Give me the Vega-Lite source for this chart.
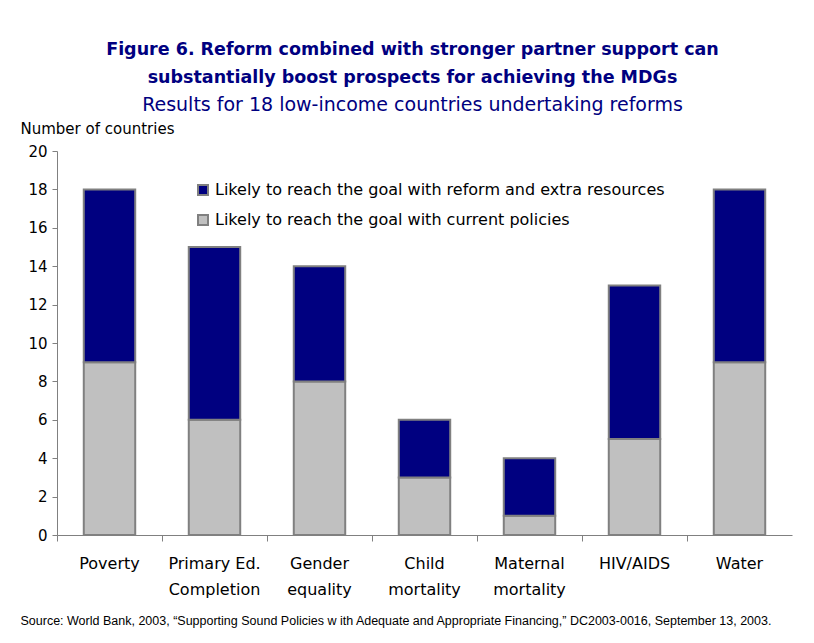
{
  "$schema": "https://vega.github.io/schema/vega-lite/v6.json",
  "width": 735,
  "height": 384,
  "padding": {"left": 20, "top": 40, "right": 22, "bottom": 10},
  "background": "white",
  "title": {
    "text": ["Figure 6. Reform combined with stronger partner support can", "substantially boost prospects for achieving the MDGs"],
    "subtitle": "Results for 18 low-income countries undertaking reforms",
    "font": "DejaVu Sans",
    "fontSize": 17.5,
    "fontWeight": "bold",
    "color": "#000080",
    "subtitleFont": "DejaVu Sans",
    "subtitleFontSize": 19,
    "subtitleColor": "#000080",
    "lineHeight": 28,
    "subtitlePadding": 10,
    "anchor": "middle",
    "dx": -12,
    "offset": 6
  },
  "data": {
    "values": [
      {"goal": "Poverty", "series": "Likely to reach the goal with current policies", "ord": 1, "count": 9},
      {"goal": "Poverty", "series": "Likely to reach the goal with reform and extra resources", "ord": 2, "count": 9},
      {"goal": "Primary Ed.|Completion", "series": "Likely to reach the goal with current policies", "ord": 1, "count": 6},
      {"goal": "Primary Ed.|Completion", "series": "Likely to reach the goal with reform and extra resources", "ord": 2, "count": 9},
      {"goal": "Gender|equality", "series": "Likely to reach the goal with current policies", "ord": 1, "count": 8},
      {"goal": "Gender|equality", "series": "Likely to reach the goal with reform and extra resources", "ord": 2, "count": 6},
      {"goal": "Child|mortality", "series": "Likely to reach the goal with current policies", "ord": 1, "count": 3},
      {"goal": "Child|mortality", "series": "Likely to reach the goal with reform and extra resources", "ord": 2, "count": 3},
      {"goal": "Maternal|mortality", "series": "Likely to reach the goal with current policies", "ord": 1, "count": 1},
      {"goal": "Maternal|mortality", "series": "Likely to reach the goal with reform and extra resources", "ord": 2, "count": 3},
      {"goal": "HIV/AIDS", "series": "Likely to reach the goal with current policies", "ord": 1, "count": 5},
      {"goal": "HIV/AIDS", "series": "Likely to reach the goal with reform and extra resources", "ord": 2, "count": 8},
      {"goal": "Water", "series": "Likely to reach the goal with current policies", "ord": 1, "count": 9},
      {"goal": "Water", "series": "Likely to reach the goal with reform and extra resources", "ord": 2, "count": 9}
    ]
  },
  "mark": {"type": "bar", "stroke": "#808080", "strokeWidth": 2, "width": {"band": 0.49}},
  "encoding": {
    "x": {
      "field": "goal",
      "type": "nominal",
      "sort": ["Poverty", "Primary Ed.|Completion", "Gender|equality", "Child|mortality", "Maternal|mortality", "HIV/AIDS", "Water"],
      "scale": {"paddingInner": 0, "paddingOuter": 0},
      "axis": {
        "title": "Source: World Bank, 2003, “Supporting Sound Policies w ith Adequate and Appropriate Financing,” DC2003-0016, September 13, 2003.",
        "titleFont": "Liberation Sans",
        "titleFontSize": 12.5,
        "titleFontWeight": "normal",
        "titleColor": "black",
        "titleX": -37,
        "titleY": 85,
        "titleAlign": "left",
        "titleBaseline": "middle",
        "labelExpr": "split(datum.value, '|')",
        "labelAngle": 0,
        "labelFont": "DejaVu Sans",
        "labelFontSize": 16,
        "labelLineHeight": 26,
        "labelPadding": 14,
        "labelColor": "black",
        "bandPosition": 0,
        "tickSize": 6,
        "tickColor": "#808080",
        "domainColor": "#808080"
      }
    },
    "y": {
      "field": "count",
      "type": "quantitative",
      "stack": "zero",
      "scale": {"domain": [0, 20]},
      "axis": {
        "values": [0, 2, 4, 6, 8, 10, 12, 14, 16, 18, 20],
        "grid": false,
        "tickSize": 5,
        "tickColor": "#808080",
        "domainColor": "#808080",
        "labelFont": "DejaVu Sans",
        "labelFontSize": 15,
        "labelColor": "black",
        "labelPadding": 5,
        "title": "Number of countries",
        "titleFont": "DejaVu Sans",
        "titleFontSize": 15,
        "titleFontWeight": "normal",
        "titleColor": "black",
        "titleAngle": 0,
        "titleAlign": "left",
        "titleBaseline": "middle",
        "titleX": -37,
        "titleY": -23
      }
    },
    "color": {
      "field": "series",
      "type": "nominal",
      "scale": {
        "domain": ["Likely to reach the goal with reform and extra resources", "Likely to reach the goal with current policies"],
        "range": ["#000080", "#C0C0C0"]
      },
      "legend": {
        "title": null,
        "orient": "none",
        "legendX": 138,
        "legendY": 31,
        "symbolType": "square",
        "symbolSize": 100,
        "symbolStrokeColor": "#808080",
        "symbolStrokeWidth": 2,
        "labelFont": "DejaVu Sans",
        "labelFontSize": 16,
        "labelColor": "black",
        "labelOffset": 4,
        "rowPadding": 12,
        "labelLimit": 600
      }
    },
    "order": {"field": "ord"}
  },
  "config": {"view": {"stroke": null}}
}
